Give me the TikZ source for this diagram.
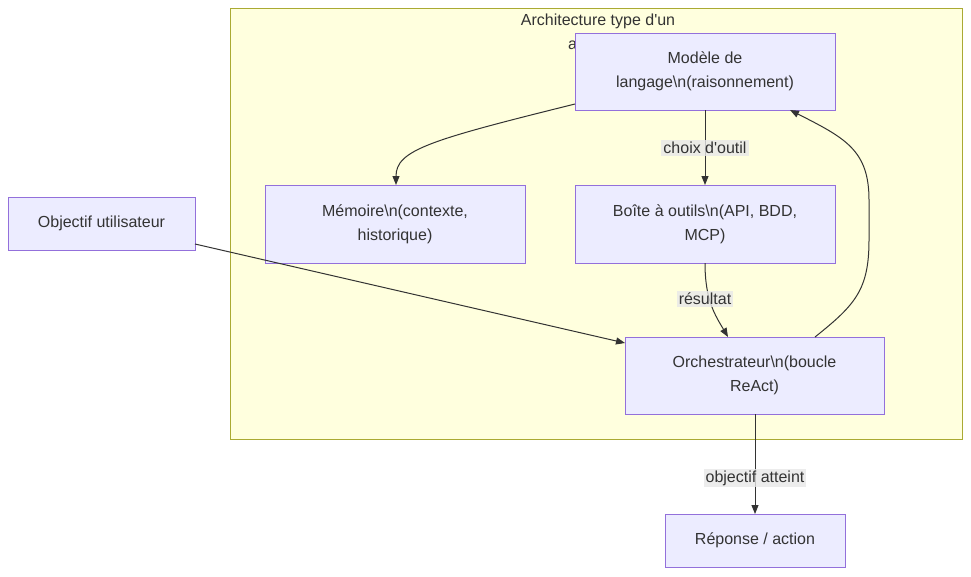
\documentclass[tikz,border=0pt]{standalone}
\usepackage{fontspec}
\setmainfont{Liberation Sans}[Ligatures=TeXOff]
\usetikzlibrary{arrows.meta}
\definecolor{nodefill}{HTML}{ECECFF}
\definecolor{nodeline}{HTML}{9370DB}
\definecolor{clusterfill}{HTML}{FFFFDE}
\definecolor{clusterline}{HTML}{AAAA33}
\definecolor{txt}{HTML}{333333}
\definecolor{lblfill}{HTML}{E8E8E8}
\tikzset{
  box/.style={draw=nodeline, fill=nodefill, line width=1pt, text=txt,
    align=center, inner sep=0pt, font=\fontsize{16}{24}\selectfont},
  edge/.style={draw=txt, line width=1pt, -{Triangle[length=9pt,width=7pt]}},
  lbl/.style={fill=lblfill, fill opacity=0.8, text opacity=1, text=txt,
    inner sep=2pt, font=\fontsize{16}{20}\selectfont},
}
\begin{document}
\begin{tikzpicture}[x=1pt,y=-1pt]
\useasboundingbox (0,0) rectangle (971,576);
\fill[white] (0,0) rectangle (971,576);
% cluster
\draw[draw=clusterline, fill=clusterfill, line width=1pt] (230,8) rectangle (962,439);
\node[text=txt, font=\fontsize{16}{24}\selectfont, align=center, inner sep=0pt] (title) at (598,33) {Architecture type d'un\\agent IA};
% nodes
\node[box, minimum width=260pt, minimum height=77pt] (llm) at (705,71.5) {Modèle de\\langage\textbackslash n(raisonnement)};
\node[box, minimum width=260pt, minimum height=78pt] (mem) at (395,224) {Mémoire\textbackslash n(contexte,\\historique)};
\node[box, minimum width=260pt, minimum height=78pt] (tools) at (705,224) {Boîte à outils\textbackslash n(API, BDD,\\MCP)};
\node[box, minimum width=187pt, minimum height=53pt] (user) at (101.5,223.5) {Objectif utilisateur};
\node[box, minimum width=259pt, minimum height=77pt] (orch) at (754.5,375.5) {Orchestrateur\textbackslash n(boucle\\ReAct)};
\node[box, minimum width=180pt, minimum height=53pt] (resp) at (755,540.5) {Réponse / action};
% anchor coordinates
\coordinate (llmL) at (575,104);
\coordinate (memT) at (396,185);
\coordinate (llmB) at (705,110);
\coordinate (toolsT) at (705,185);
\coordinate (toolsB) at (705,263);
\coordinate (orchT1) at (728,337);
\coordinate (userR) at (195,244);
\coordinate (orchL) at (625,343);
\coordinate (orchT2) at (815,337);
\coordinate (llmB2) at (790,110);
\coordinate (orchB) at (755,414);
\coordinate (respT) at (755,514);
% edges
\draw[edge] (llmL) .. controls (430,140) and (396,150) .. (memT);
\draw[edge] (llmB) -- (toolsT);
\node[lbl] (l1) at (705,148) {choix d'outil};
\draw[edge] (toolsB) .. controls (705,300) and (715,315) .. (orchT1);
\node[lbl] (l2) at (705,299) {résultat};
\draw[edge] (userR) -- (orchL);
\draw[edge] (orchT2) .. controls (855,305) and (869,290) .. (869,240) -- (869,200) .. controls (869,150) and (845,138) .. (llmB2);
\draw[edge] (orchB) -- (respT);
\node[lbl] (l3) at (755,478) {objectif atteint};
\end{tikzpicture}
\end{document}
